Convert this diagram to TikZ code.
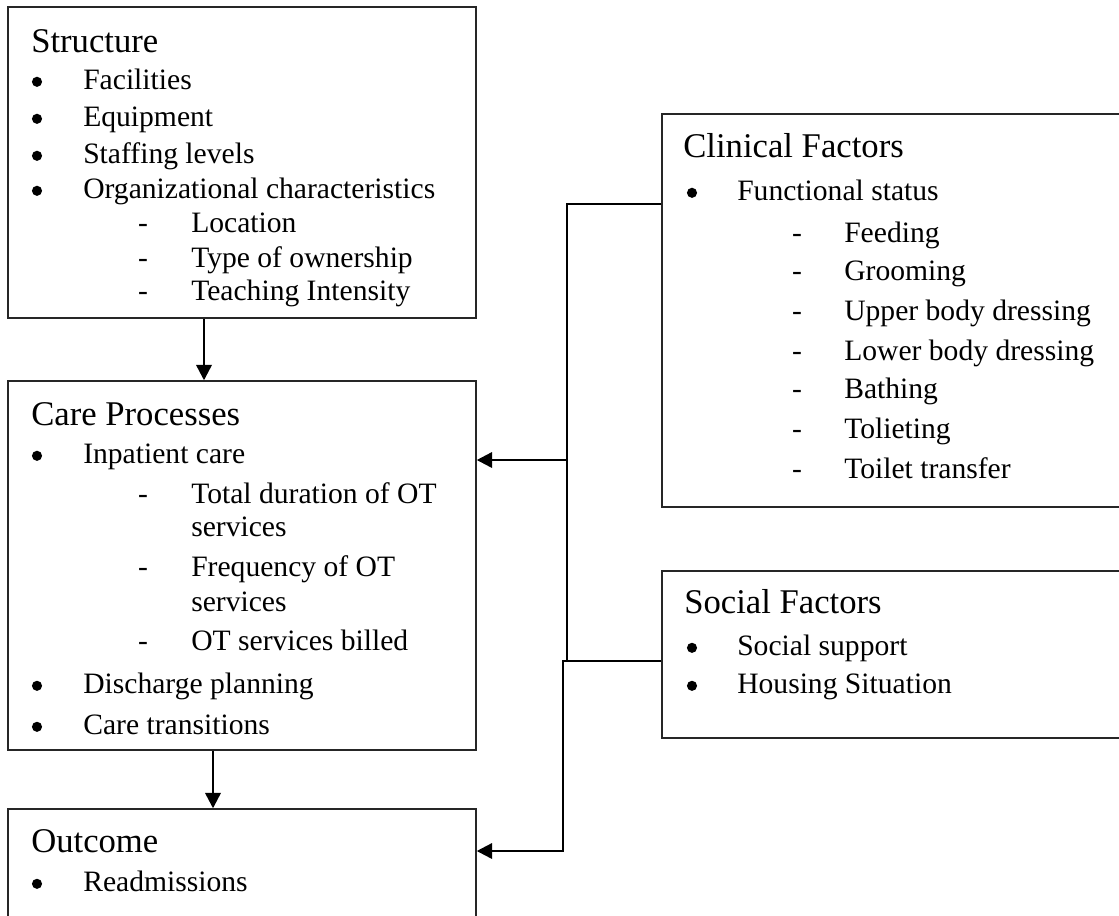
\documentclass[tikz,border=0pt]{standalone}
\usepackage{fontspec}
\setmainfont{Liberation Serif}
\usetikzlibrary{arrows.meta,fit}
\begin{document}
\begin{tikzpicture}[x=0.75pt,y=-0.75pt,
  box/.style={draw=black!85,line width=1.1pt,inner sep=0pt},
  conn/.style={draw=black,line width=1.8pt},
  arr/.style={conn,-{Triangle[length=11.5pt,width=11.5pt]}},
  ttl/.style={anchor=base west,inner sep=0pt,font=\fontsize{26}{30}\selectfont},
  txt/.style={anchor=base west,inner sep=0pt,font=\fontsize{22.2}{26}\selectfont},
  bul/.style={circle,fill=black,inner sep=0pt,minimum size=7.6pt,yshift=5.4pt},
  dsh/.style={anchor=base,inner sep=0pt,font=\fontsize{22.2}{26}\selectfont}]
\useasboundingbox (0,0) rectangle (1119,915);
\clip (0,0) rectangle (1119,915);
% boxes
\node[box,fit={(8,7) (476,318)}] (struct) {};
\node[box,fit={(8,381) (476,750)}] (care) {};
\node[box,fit={(8,809) (476,940)}] (out) {};
\node[box,fit={(662,114) (1140,507)}] (clin) {};
\node[box,fit={(662,571) (1140,738)}] (soc) {};
% Structure
\node[ttl] (st0) at (31,52) {Structure};
\node[bul] (sb1) at (37,89) {};   \node[txt] (st1) at (83,89) {Facilities};
\node[bul] (sb2) at (37,126) {};  \node[txt] (st2) at (83,126) {Equipment};
\node[bul] (sb3) at (37,163) {};  \node[txt] (st3) at (83,163) {Staffing levels};
\node[bul] (sb4) at (37,198) {};  \node[txt] (st4) at (83,198) {Organizational characteristics};
\node[dsh] (sd5) at (143,232) {-}; \node[txt] (st5) at (191,232) {Location};
\node[dsh] (sd6) at (143,267) {-}; \node[txt] (st6) at (191,267) {Type of ownership};
\node[dsh] (sd7) at (143,300) {-}; \node[txt] (st7) at (191,300) {Teaching Intensity};
% Care Processes
\node[ttl] (ct0) at (31,425) {Care Processes};
\node[bul] (cb1) at (37,463) {};  \node[txt] (ct1) at (83,463) {Inpatient care};
\node[dsh] (cd2) at (143,503) {-}; \node[txt] (ct2) at (191,503) {Total duration of OT};
\node[txt] (ct3) at (191,536) {services};
\node[dsh] (cd4) at (143,576) {-}; \node[txt] (ct4) at (191,576) {Frequency of OT};
\node[txt] (ct5) at (191,611) {services};
\node[dsh] (cd6) at (143,650) {-}; \node[txt] (ct6) at (191,650) {OT services billed};
\node[bul] (cb7) at (37,693) {};  \node[txt] (ct7) at (83,693) {Discharge planning};
\node[bul] (cb8) at (37,734) {};  \node[txt] (ct8) at (83,734) {Care transitions};
% Outcome
\node[ttl] (ot0) at (31,852) {Outcome};
\node[bul] (ob1) at (37,891) {};  \node[txt] (ot1) at (83,891) {Readmissions};
% Clinical Factors
\node[ttl] (kt0) at (683,157) {Clinical Factors};
\node[bul] (kb1) at (692,200) {}; \node[txt] (kt1) at (737,200) {Functional status};
\node[dsh] (kd2) at (797,242) {-}; \node[txt] (kt2) at (844,242) {Feeding};
\node[dsh] (kd3) at (797,280) {-}; \node[txt] (kt3) at (844,280) {Grooming};
\node[dsh] (kd4) at (797,320) {-}; \node[txt] (kt4) at (844,320) {Upper body dressing};
\node[dsh] (kd5) at (797,360) {-}; \node[txt] (kt5) at (844,360) {Lower body dressing};
\node[dsh] (kd6) at (797,398) {-}; \node[txt] (kt6) at (844,398) {Bathing};
\node[dsh] (kd7) at (797,438) {-}; \node[txt] (kt7) at (844,438) {Tolieting};
\node[dsh] (kd8) at (797,478) {-}; \node[txt] (kt8) at (844,478) {Toilet transfer};
% Social Factors
\node[ttl] (qt0) at (684,613) {Social Factors};
\node[bul] (qb1) at (692,655) {}; \node[txt] (qt1) at (737,655) {Social support};
\node[bul] (qb2) at (692,693) {}; \node[txt] (qt2) at (737,693) {Housing Situation};
% connectors
\coordinate (a1) at (204,0);
\coordinate (a2) at (213,0);
\draw[arr] (struct.south -| a1) -- (care.north -| a1);
\draw[arr] (care.south -| a2) -- (out.north -| a2);
\coordinate (cj) at (567,204);
\coordinate (ca) at (567,460);
\coordinate (cb) at (567,661);
\coordinate (sj) at (563,661);
\coordinate (so) at (563,851);
\draw[conn] (clin.west |- cj) -- (cj) -- (cb);
\draw[arr] (ca) -- (care.east |- ca);
\draw[arr] (soc.west |- sj) -- (sj) -- (so) -- (out.east |- so);
\end{tikzpicture}
\end{document}
